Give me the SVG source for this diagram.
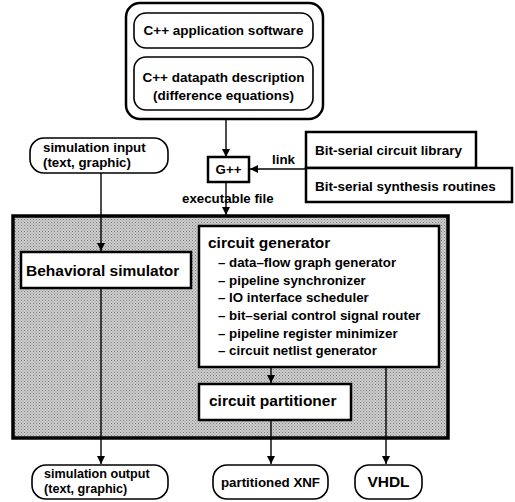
<svg xmlns="http://www.w3.org/2000/svg" width="515" height="502" viewBox="0 0 515 502">
<defs>
<marker id="ah" viewBox="0 0 10 10" refX="10" refY="5" markerWidth="8" markerHeight="8" markerUnits="userSpaceOnUse" orient="auto">
<path d="M0,0 L10,5 L0,10 z" fill="#000"/>
</marker>
<pattern id="dots" width="3" height="3" patternUnits="userSpaceOnUse">
<rect width="3" height="3" fill="#cdcdcd"/>
<rect width="1" height="1" fill="#808080"/>
<rect x="1.5" y="1.5" width="1" height="1" fill="#909090"/>
</pattern>
<style>
text{font-family:"Liberation Sans",Arial,Helvetica,sans-serif;font-weight:bold;fill:#000}
.s12{font-size:13.3px}
.s11{font-size:12.6px}
.s13{font-size:13.5px}
.s14{font-size:15.5px}
.box{fill:#fff;stroke:#000;stroke-width:2.5}
.thin{fill:#fff;stroke:#000;stroke-width:1.6}
.ln{stroke:#000;stroke-width:1.4;fill:none}
</style>
</defs>
<rect width="515" height="502" fill="#fff"/>

<g id="gray-system">
<rect x="13" y="216" width="435" height="222" fill="url(#dots)" stroke="#000" stroke-width="3.5"/>
</g>

<g id="cpp-sources">
<rect x="126" y="3" width="197" height="116" rx="14" class="box"/>
</g>
<g id="cpp-app">
<rect x="134" y="13" width="179" height="35" rx="12" class="thin"/>
<text x="223.5" y="35" text-anchor="middle" class="s13">C++ application software</text>
</g>
<g id="cpp-datapath">
<rect x="134" y="57" width="179" height="53" rx="12" class="thin"/>
<text x="223.5" y="82" text-anchor="middle" class="s13">C++ datapath description</text>
<text x="223.5" y="100" text-anchor="middle" class="s13">(difference equations)</text>
</g>

<g id="gpp">
<rect x="208" y="157" width="41" height="25" class="box"/>
<text x="228.5" y="174" text-anchor="middle" class="s12">G++</text>
</g>

<g id="lib">
<rect x="306" y="132" width="170" height="36" class="box"/>
<text x="315" y="155" class="s13">Bit-serial circuit library</text>
</g>
<g id="synth">
<rect x="306" y="168" width="206" height="34" class="box"/>
<text x="315" y="191" class="s13">Bit-serial synthesis routines</text>
</g>

<g id="sim-input">
<rect x="30" y="138" width="138" height="35" rx="14" class="thin"/>
<text x="43" y="152" class="s12">simulation input</text>
<text x="43" y="167" class="s12">(text, graphic)</text>
</g>

<g id="behav">
<rect x="21" y="252" width="170" height="36" class="box"/>
<text x="26" y="276" class="s14">Behavioral simulator</text>
</g>

<g id="circgen">
<rect x="199" y="226" width="240" height="141" class="box"/>
<text x="208" y="248" class="s14">circuit generator</text>
<text x="218" y="267" class="s12">– data–flow graph generator</text>
<text x="218" y="285" class="s12">– pipeline synchronizer</text>
<text x="218" y="302" class="s12">– IO interface scheduler</text>
<text x="218" y="320" class="s12">– bit–serial control signal router</text>
<text x="218" y="338" class="s12">– pipeline register minimizer</text>
<text x="218" y="355" class="s12">– circuit netlist generator</text>
</g>

<g id="partitioner">
<rect x="199" y="384" width="152" height="36" class="box"/>
<text x="209" y="406" class="s14">circuit partitioner</text>
</g>

<g id="sim-output">
<rect x="32" y="465" width="136" height="34" rx="14" class="thin"/>
<text x="44" y="478" class="s11">simulation output</text>
<text x="44" y="493" class="s11">(text, graphic)</text>
</g>
<g id="xnf">
<rect x="213" y="465" width="115" height="34" rx="14" class="thin"/>
<text x="270.5" y="487" text-anchor="middle" class="s12">partitioned XNF</text>
</g>
<g id="vhdl">
<rect x="355" y="465" width="67" height="34" rx="14" class="thin"/>
<text x="388.5" y="487" text-anchor="middle" class="s14">VHDL</text>
</g>

<g id="connectors">
<line x1="226" y1="119" x2="226" y2="157" class="ln" marker-end="url(#ah)"/>
<line x1="306" y1="169" x2="250" y2="169" class="ln" marker-end="url(#ah)"/>
<text x="272" y="164" class="s12">link</text>
<line x1="226" y1="182" x2="226" y2="215" class="ln" marker-end="url(#ah)"/>
<text x="182" y="203" class="s12">executable file</text>
<line x1="101" y1="173" x2="101" y2="251" class="ln" marker-end="url(#ah)"/>
<line x1="101" y1="288" x2="101" y2="464" class="ln" marker-end="url(#ah)"/>
<line x1="271" y1="367" x2="271" y2="383" class="ln" marker-end="url(#ah)"/>
<line x1="271" y1="420" x2="271" y2="464" class="ln" marker-end="url(#ah)"/>
<line x1="386" y1="367" x2="386" y2="464" class="ln" marker-end="url(#ah)"/>
</g>
</svg>
